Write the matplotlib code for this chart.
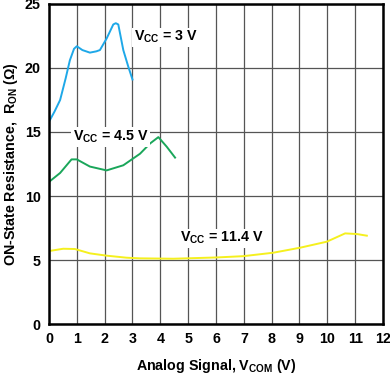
import matplotlib.pyplot as plt

plt.rcParams['font.family'] = ['Liberation Sans', 'DejaVu Sans']
plt.rcParams['font.weight'] = 'bold'
plt.rcParams['mathtext.fontset'] = 'custom'
plt.rcParams['mathtext.rm'] = 'Liberation Sans:bold'
plt.rcParams['mathtext.bf'] = 'Liberation Sans:bold'
plt.rcParams['mathtext.it'] = 'Liberation Sans:bold'

# V_CC = 3 V
x_3v = [0.0, 0.2, 0.4, 0.6, 0.75, 0.9, 1.0, 1.2, 1.47, 1.7, 1.83, 2.07, 2.31, 2.4, 2.49, 2.67, 2.85, 3.0]
r_3v = [15.8, 16.6, 17.5, 19.2, 20.6, 21.5, 21.7, 21.4, 21.2, 21.3, 21.4, 22.3, 23.4, 23.5, 23.4, 21.4, 20.1, 19.1]

# V_CC = 4.5 V
x_45v = [0.0, 0.4, 0.81, 1.0, 1.47, 2.07, 2.67, 3.27, 3.63, 3.93, 4.23, 4.53]
r_45v = [11.1, 11.8, 12.86, 12.86, 12.3, 12.0, 12.4, 13.3, 14.1, 14.6, 13.85, 13.0]

# V_CC = 11.4 V
x_114v = [0.0, 0.51, 0.93, 1.47, 2.07, 2.79, 3.27, 4.47, 6.02, 6.98, 8.06, 9.02, 9.98, 10.64, 11.06, 11.42]
r_114v = [5.7, 5.88, 5.86, 5.52, 5.34, 5.18, 5.13, 5.1, 5.2, 5.3, 5.57, 5.96, 6.43, 7.08, 7.03, 6.9]

x_ticks = list(range(0, 13))
y_ticks = [0, 5, 10, 15, 20, 25]

fig = plt.figure(figsize=(3.9, 3.83), dpi=100)
ax = fig.add_axes([0.1256, 0.154, 0.8564, 0.8356])

ax.plot(x_3v, r_3v, color='#1ea8e8', lw=1.4)
ax.plot(x_45v, r_45v, color='#1aa65a', lw=1.4)
ax.plot(x_114v, r_114v, color='#f5f01e', lw=1.4)

ax.set_xlim(0, 12)
ax.set_ylim(0, 25)
ax.set_xticks(x_ticks)
ax.set_yticks(y_ticks)
ax.tick_params(length=0, labelsize=10.3, pad=6)
ax.grid(True, color='#555555', lw=0.9)
ax.set_axisbelow(True)
for s in ax.spines.values():
    s.set_linewidth(1.8)

fs = 10.3
box = dict(facecolor='white', edgecolor='none', pad=1)
ax.text(3.05, 22.4, r'V$_{CC}$ = 3 V', fontsize=fs, fontweight='bold', bbox=box, va='center')
ax.text(0.85, 14.6, r'V$_{CC}$ = 4.5 V', fontsize=fs, fontweight='bold', bbox=box, va='center')
ax.text(4.7, 6.7, r'V$_{CC}$ = 11.4 V', fontsize=fs, fontweight='bold', bbox=box, va='center')

ax.set_xlabel(r'Analog Signal, V$_{COM}$ (V)', fontsize=fs, fontweight='bold', labelpad=8)
ax.set_ylabel(r'ON-State Resistance,  R$_{ON}$ (Ω)', fontsize=fs, fontweight='bold', labelpad=3)

fig.savefig('out.png', dpi=100)
